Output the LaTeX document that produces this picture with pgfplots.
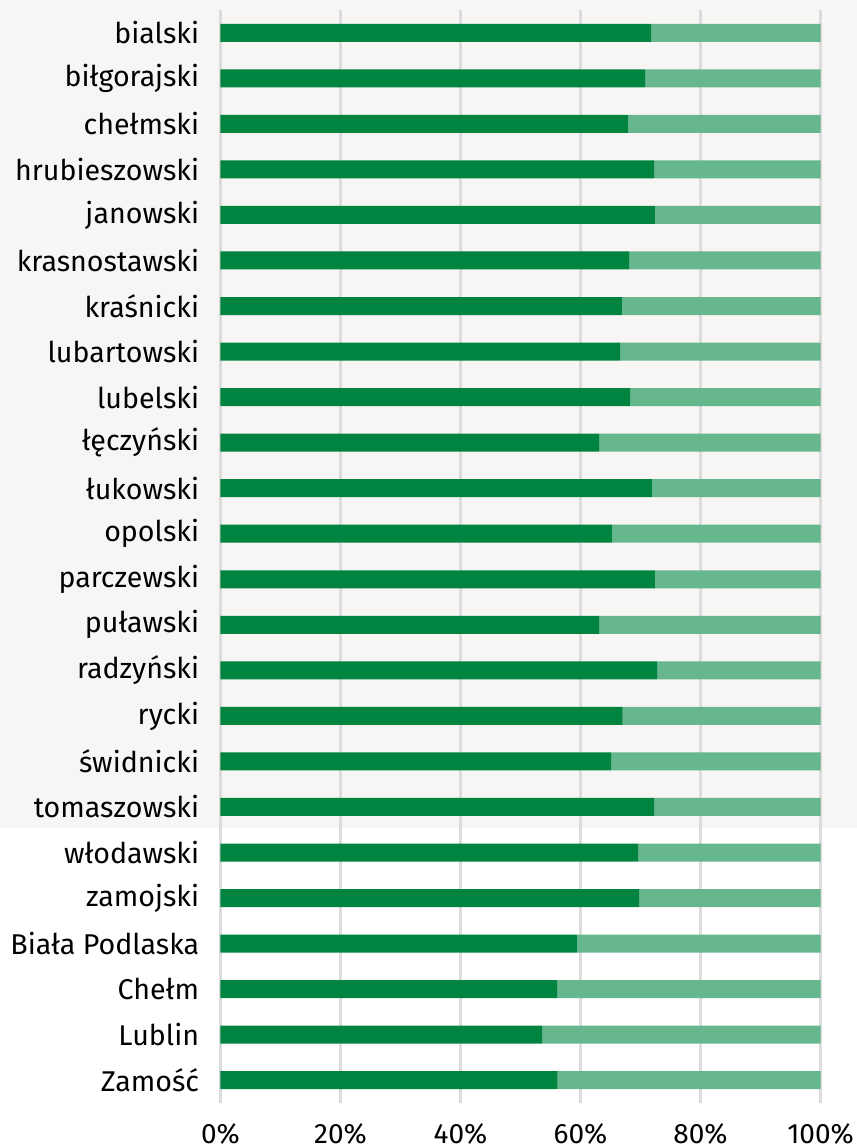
\documentclass[border=0pt]{standalone}
\usepackage{fontspec}
\setmainfont{Fira Sans}
\usepackage{pgfplots}
\pgfplotsset{compat=1.18}
\usepackage{pgfplotstable}
\usetikzlibrary{calc}

\definecolor{darkgreen}{HTML}{00843F}
\definecolor{lightgreen}{HTML}{67B78E}
\definecolor{panelbg}{HTML}{F7F6F4}
\definecolor{gridgrey}{HTML}{DCDCDC}

% idx: 0 = top row; share = dark part, rest = light part (per cent)
\pgfplotstableread{
idx share rest
0  71.75 28.25
1  70.75 29.25
2  67.9  32.1
3  72.25 27.75
4  72.4  27.6
5  68.1  31.9
6  66.9  33.1
7  66.6  33.4
8  68.25 31.75
9  63.1  36.9
10 71.9  28.1
11 65.3  34.7
12 72.4  27.6
13 63.1  36.9
14 72.75 27.25
15 67.0  33.0
16 65.1  34.9
17 72.25 27.75
18 69.6  30.4
19 69.75 30.25
20 59.4  40.6
21 56.1  43.9
22 53.6  46.4
23 56.2  43.8
}\powiaty

\begin{document}
\fontsize{14bp}{17bp}\selectfont
\begin{tikzpicture}
% light panel behind the upper rows (down to tomaszowski)
\fill[panelbg] (-111bp,137.5bp) rectangle (319bp,552bp);
\begin{axis}[
    name=ax,
    at={(0,0)}, anchor=south west,
    scale only axis,
    width=300bp, height=546.5bp,
    xbar stacked,
    bar width=9bp,
    y dir=reverse,
    xmin=0, xmax=100,
    ymin=-0.5, ymax=23.5,
    enlargelimits=false,
    axis line style={draw=none},
    major tick length=0pt,
    xtick={0,20,40,60,80,100},
    xticklabels={0\%,20\%,40\%,60\%,80\%,100\%},
    ytick={0,...,23},
    yticklabels={bialski, biłgorajski, chełmski, hrubieszowski, janowski,
        krasnostawski, kraśnicki, lubartowski, lubelski, łęczyński, łukowski,
        opolski, parczewski, puławski, radzyński, rycki, świdnicki, tomaszowski,
        włodawski, zamojski, Biała Podlaska, Chełm, Lublin, Zamość},
    xmajorgrids,
    major grid style={draw=gridgrey, line width=1.5bp},
    tick label style={inner sep=0pt},
    xticklabel style={font=\fontsize{14bp}{17bp}\selectfont, anchor=north,
        text depth=0pt, yshift=-10bp},
    yticklabel style={font=\fontsize{14.3bp}{17bp}\selectfont, anchor=east, xshift=-10.5bp},
    ]
    \addplot[fill=darkgreen, draw=none] table[x=share, y=idx] {\powiaty};
    \addplot[fill=lightgreen, draw=none] table[x=rest, y=idx] {\powiaty};
\end{axis}
\pgfresetboundingbox
\path ($(ax.south west)+(-110.25bp,-22.5bp)$) rectangle ($(ax.north east)+(18.25bp,5bp)$);
\end{tikzpicture}
\end{document}
